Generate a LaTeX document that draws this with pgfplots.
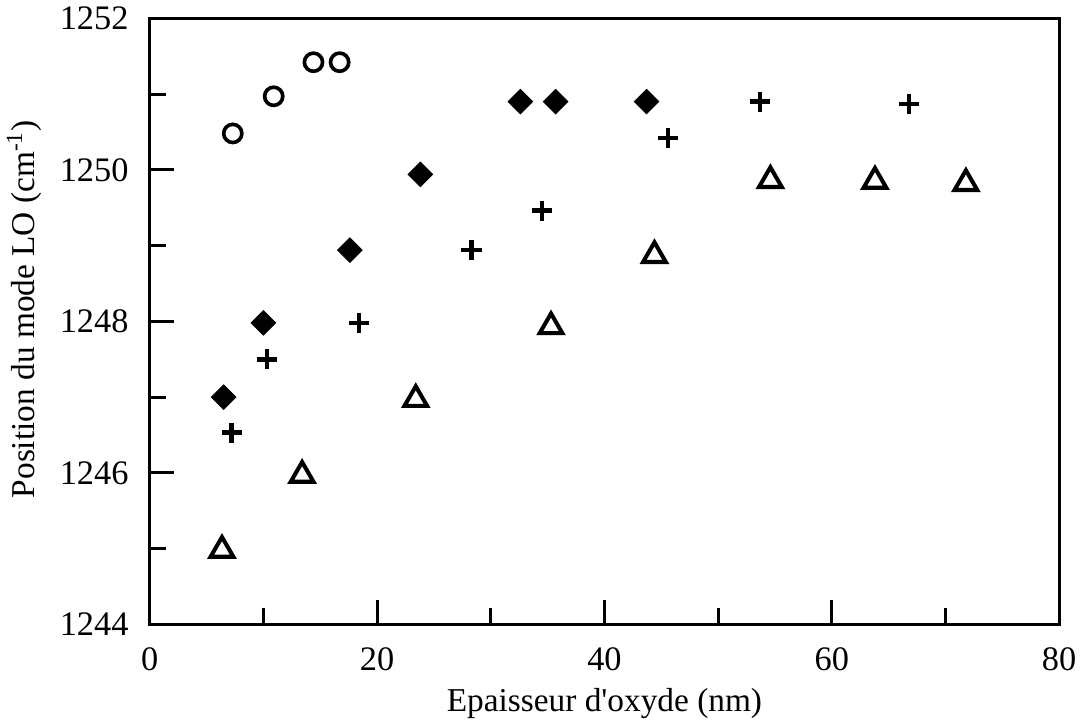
\documentclass[border=0pt]{standalone}
\usepackage{fontspec}
\setmainfont{Liberation Serif}
\usepackage{pgfplots}
\pgfplotsset{compat=1.18}
\begin{document}
\begin{tikzpicture}
\begin{axis}[
  scale only axis,
  width=450pt, height=300pt,
  xmin=0, xmax=80, ymin=1244, ymax=1252,
  xtick={0,20,40,60,80}, minor xtick={10,30,50,70},
  ytick={1244,1246,1248,1250,1252}, minor ytick={1245,1247,1249,1251},
  tick align=inside,
  xtick pos=bottom, ytick pos=left,
  major tick length=12pt, minor tick length=8pt,
  every tick/.style={line width=1.5pt, black},
  axis line style={line width=1.5pt},
  /pgf/number format/assume math mode=true,
  /pgf/number format/1000 sep={},
  tick label style={font=\fontsize{17}{20}\selectfont},
  label style={font=\fontsize{16.5}{19}\selectfont},
  xticklabel style={yshift=-8pt},
  yticklabel style={xshift=-7pt},
  xlabel={Epaisseur d\textquotesingle oxyde (nm)},
  ylabel={Position du mode LO (cm\textsuperscript{-1})},
  xlabel style={yshift=-2pt},
  ylabel style={yshift=2pt, xshift=6pt},
]
\addplot[only marks, mark=o, mark size=4.5pt, line width=1.8pt] coordinates {
  (7.3,1250.48) (10.9,1250.97) (14.4,1251.42) (16.7,1251.42)
};
\addplot[only marks, mark=square*, mark size=4.3pt, fill=black, mark options={rotate=45}] coordinates {
  (6.5,1247.0) (10.0,1247.98) (17.6,1248.94) (23.8,1249.94)
  (32.6,1250.9) (35.7,1250.9) (43.7,1250.9)
};
\addplot[only marks, mark=+, mark size=5pt, line width=2.3pt] coordinates {
  (7.2,1246.53) (10.3,1247.5) (18.4,1247.98) (28.3,1248.94)
  (34.5,1249.46) (45.6,1250.42) (53.7,1250.9) (66.8,1250.87)
};
\addplot[only marks, mark=triangle, mark size=6.5pt, line width=2pt] coordinates {
  (6.35,1244.98) (13.4,1245.97) (23.4,1246.97) (35.3,1247.93)
  (44.4,1248.87) (54.6,1249.86) (63.8,1249.85) (71.8,1249.82)
};
\end{axis}
\end{tikzpicture}
\end{document}
